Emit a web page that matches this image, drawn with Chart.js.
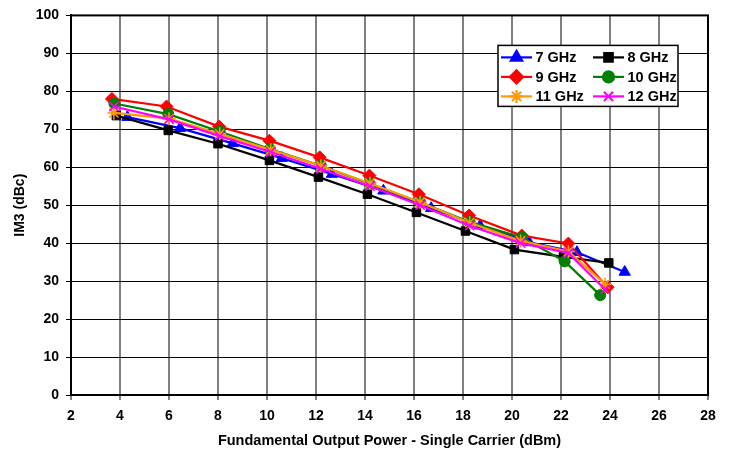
<!DOCTYPE html>
<html>
<head>
<meta charset="utf-8">
<script src="https://cdn.jsdelivr.net/npm/chart.js@4/dist/chart.umd.min.js"></script>
<style>
  html, body { margin:0; padding:0; background:#fff; }
  #wrap { width:734px; height:456px; }
</style>
</head>
<body>
<div id="wrap"><canvas id="im3Chart" width="734" height="456"></canvas></div>
<script>
// IM3 vs fundamental output power, one curve per frequency
const labels = ['7 GHz','8 GHz','9 GHz','10 GHz','11 GHz','12 GHz'];

const pout7  = [4.3, 6.45, 8.6, 10.6, 12.65, 14.75, 16.7, 18.7, 20.7, 22.65, 24.6];
const im3_7  = [73.2, 70.3, 66.3, 62.4, 58.2, 53.8, 49.2, 44.6, 40.2, 37.6, 32.4];
const pout8  = [3.85, 5.97, 8.0, 10.1, 12.1, 14.1, 16.1, 18.1, 20.1, 22.1, 23.95];
const im3_8  = [73.6, 69.7, 66.2, 61.8, 57.4, 52.9, 48.1, 43.2, 38.3, 36.4, 34.8];
const pout9  = [3.67, 5.9, 8.05, 10.1, 12.15, 14.18, 16.2, 18.25, 20.4, 22.3, 23.9];
const im3_9  = [78.0, 76.0, 70.7, 67.0, 62.6, 57.8, 52.9, 47.3, 42.0, 39.9, 28.4];
const pout10 = [3.77, 5.97, 8.07, 10.12, 12.2, 14.2, 16.25, 18.27, 20.4, 22.15, 23.6];
const im3_10 = [76.8, 74.0, 69.4, 64.8, 60.4, 55.6, 50.8, 45.6, 41.5, 35.2, 26.3];
const pout11 = [3.75, 6.0, 8.07, 10.15, 12.2, 14.2, 16.25, 18.27, 20.35, 22.3, 23.8];
const im3_11 = [74.3, 72.8, 68.8, 64.6, 60.4, 55.8, 50.8, 45.4, 40.6, 37.8, 29.2];
const pout12 = [3.75, 6.0, 8.07, 10.15, 12.2, 14.2, 16.25, 18.27, 20.35, 22.3, 23.8];
const im3_12 = [76.0, 72.6, 68.2, 64.0, 59.6, 55.0, 50.0, 44.6, 40.0, 37.4, 27.8];

const xs = [pout7, pout8, pout9, pout10, pout11, pout12];
const ys = [im3_7, im3_8, im3_9, im3_10, im3_11, im3_12];

const colors = ['#0000ff','#000000','#ff0000','#008000','#ff9900','#ff00ff'];
const markers = ['triangle','rect','rectRot','circle','star','crossRot'];
const radii = [6.5, 6, 6.5, 5.5, 6.5, 6.5];

const FONT = '"Liberation Sans", Arial, sans-serif';

const datasets = labels.map((name, i) => ({
  label: name,
  data: xs[i].map((x, j) => ({ x: x, y: ys[i][j] })),
  showLine: true,
  borderColor: colors[i],
  backgroundColor: colors[i],
  borderWidth: 2.2,
  pointStyle: markers[i],
  pointRadius: radii[i],
  pointBorderWidth: (markers[i] === 'star' || markers[i] === 'crossRot') ? 1.5 : 1,
  pointBorderColor: colors[i],
  pointBackgroundColor: colors[i],
  tension: 0,
  order: labels.length - i
}));

// boxed two-column legend in the upper right of the plot
const boxLegend = {
  id: 'boxLegend',
  afterDraw(chart) {
    const { ctx, chartArea } = chart;
    const bx = chartArea.left + 427, by = chartArea.top + 30, bw = 180, bh = 61;
    ctx.save();
    ctx.fillStyle = '#fff';
    ctx.fillRect(bx, by, bw, bh);
    ctx.strokeStyle = '#000';
    ctx.lineWidth = 1.5;
    ctx.strokeRect(bx, by, bw, bh);
    ctx.font = 'bold 14.5px ' + FONT;
    ctx.textBaseline = 'middle';
    labels.forEach((name, i) => {
      const col = i % 2, row = Math.floor(i / 2);
      const x0 = bx + 3 + col * 92;
      const y0 = by + 12 + row * 19.5;
      ctx.strokeStyle = colors[i];
      ctx.lineWidth = 2.2;
      ctx.beginPath();
      ctx.moveTo(x0, y0);
      ctx.lineTo(x0 + 31, y0);
      ctx.stroke();
      ctx.fillStyle = colors[i];
      Chart.helpers.drawPoint(ctx, {
        pointStyle: markers[i], radius: radii[i], rotation: 0, borderWidth: 1.5
      }, x0 + 15.5, y0);
      ctx.fillStyle = '#000';
      ctx.fillText(name, x0 + 34.5, y0 + 1);
    });
    ctx.restore();
  }
};

// black frame around the plot area
const plotFrame = {
  id: 'plotFrame',
  afterDatasetsDraw(chart) {
    const { ctx, chartArea: a } = chart;
    ctx.save();
    ctx.strokeStyle = '#000';
    ctx.lineWidth = 2;
    ctx.strokeRect(a.left, a.top, a.right - a.left, a.bottom - a.top);
    ctx.restore();
  }
};

new Chart(document.getElementById('im3Chart').getContext('2d'), {
  type: 'scatter',
  data: { datasets: datasets },
  plugins: [plotFrame, boxLegend],
  options: {
    responsive: false,
    animation: false,
    layout: { padding: { top: 12, right: 26, bottom: 0, left: 0 } },
    plugins: { legend: { display: false }, tooltip: { enabled: false } },
    scales: {
      x: {
        type: 'linear', min: 2, max: 28,
        afterFit: s => { s.height = 61; },
        ticks: { stepSize: 2, color: '#000', padding: 8, font: { family: FONT, size: 14, weight: 'bold' } },
        grid: { color: '#808080', lineWidth: 2, tickLength: 5, tickColor: '#808080' },
        border: { color: '#000', width: 2 },
        title: { display: true, text: 'Fundamental Output Power - Single Carrier (dBm)', color: '#000',
                 padding: { top: 0, bottom: 6 }, font: { family: FONT, size: 14.5, weight: 'bold' } }
      },
      y: {
        type: 'linear', min: 0, max: 100,
        afterFit: s => { s.width = 71; },
        ticks: { stepSize: 10, color: '#000', padding: 7, font: { family: FONT, size: 14, weight: 'bold' } },
        grid: { color: '#000', lineWidth: 1, tickLength: 5, tickColor: '#000' },
        border: { color: '#000', width: 2 },
        title: { display: true, text: 'IM3 (dBc)', color: '#000',
                 padding: { top: 11.5, bottom: 0 }, font: { family: FONT, size: 14, weight: 'bold' } }
      }
    }
  }
});
</script>
</body>
</html>
